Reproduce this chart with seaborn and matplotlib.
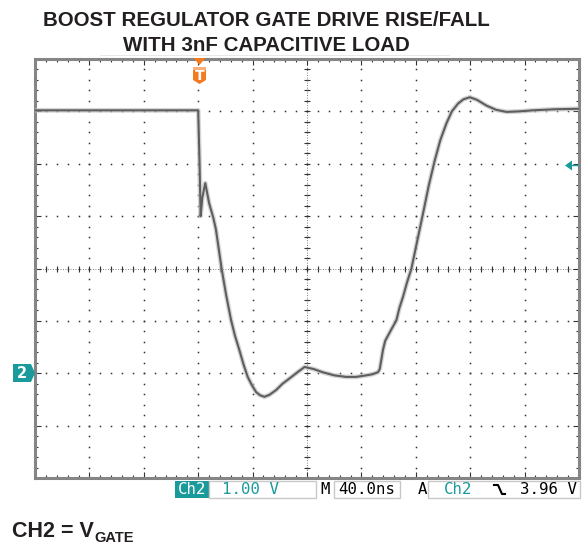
import numpy as np
import pandas as pd
import matplotlib
matplotlib.use("Agg")
import matplotlib.pyplot as plt
import seaborn as sns
from matplotlib.patches import Rectangle, Polygon
from matplotlib.ticker import MultipleLocator

# ---- data (read from the scope capture) ----
time_ns = [-120, -60, 0, 1.0, 1.8, 3.0, 5.2, 8.0, 11.1, 13.0, 17.2, 20.5, 24.2,
           27.0, 30.3, 33.3, 36.4, 39.5, 42.6, 45.5, 48.7, 52.5, 57.3, 62.0,
           67.1, 72.0, 78.2, 85.0, 91.4, 100.0, 108.9, 116.0, 123.6, 128.0,
           132.2, 133.5, 135.9, 137.5, 140.0, 142.5, 145.7, 148.0, 150.6,
           153.5, 156.8, 161.0, 165.3, 169.5, 173.9, 178.0, 182.5, 186.5,
           191.1, 195.0, 199.7, 205.0, 212.0, 219.0, 226.7, 236.0, 246.0,
           262.0, 280.0]
vgate = [5.02, 5.02, 5.02, 4.0, 3.0, 3.35, 3.63, 3.25, 2.97, 2.75, 2.0, 1.5, 1.01,
         0.72, 0.44, 0.17, -0.07, -0.23, -0.36, -0.42, -0.45, -0.41, -0.32, -0.2,
         -0.1, 0.0, 0.12, 0.08, 0.02, -0.04, -0.07, -0.07, -0.04, -0.02,
         0.02, 0.08, 0.45, 0.62, 0.74, 0.86, 1.01, 1.25, 1.46,
         1.73, 2.0, 2.52, 3.05, 3.58, 4.06, 4.45, 4.77, 5.0,
         5.15, 5.23, 5.27, 5.22, 5.11, 5.03, 4.99, 5.0, 5.02,
         5.04, 5.05]
trigger_level = 3.96
title_lines = ["BOOST REGULATOR GATE DRIVE RISE/FALL", "WITH 3nF CAPACITIVE LOAD"]
status_ch = "Ch2"
status_vdiv = "1.00 V"
status_tdiv = "40.0ns"
status_trig = "3.96 V"

df = pd.DataFrame({"t": time_ns, "v": vgate})

W, H = 584, 548
fig = plt.figure(figsize=(W / 100, H / 100), dpi=100)
fig.patch.set_facecolor("white")

L, R, T, B = 35, 579, 59, 478
ax = fig.add_axes([L / W, 1 - B / H, (R - L) / W, (B - T) / H])
ax.set_xlim(-120, 280)
ax.set_ylim(-2, 6)
ax.set_facecolor("white")

# graticule dots
dotc = "#333333"
for xv in np.arange(-80, 280, 40):
    ys = np.arange(-2, 6.001, 0.2)
    ax.plot(np.full_like(ys, xv), ys, ls="none", marker="s", ms=1.1, mew=0, color=dotc, zorder=1)
for yv in np.arange(-1, 6, 1):
    xs = np.arange(-120, 280.1, 8)
    ax.plot(xs, np.full_like(xs, yv), ls="none", marker="s", ms=1.1, mew=0, color=dotc, zorder=1)
# centre lines with small ticks
ys = np.arange(-2, 6.001, 0.2)
ax.plot(np.full_like(ys, 80), ys, ls="none", marker="_", ms=4, mew=0.8, color=dotc, zorder=1)
ax.axvline(80, ls=(0, (1, 2)), lw=0.6, color="#555555", zorder=1)
xs = np.arange(-120, 280.1, 8)
ax.plot(xs, np.full_like(xs, 2), ls="none", marker="|", ms=4, mew=0.8, color=dotc, zorder=1)
ax.axhline(2, ls=(0, (1, 2)), lw=0.6, color="#555555", zorder=1)

# border ticks
ax.xaxis.set_major_locator(MultipleLocator(40))
ax.xaxis.set_minor_locator(MultipleLocator(8))
ax.yaxis.set_major_locator(MultipleLocator(1))
ax.yaxis.set_minor_locator(MultipleLocator(0.2))
ax.tick_params(which="both", direction="in", top=True, right=True, bottom=True, left=True,
               labelbottom=False, labelleft=False, color="#333333")
ax.tick_params(which="major", length=4, width=0.8)
ax.tick_params(which="minor", length=2.5, width=0.8)
for s in ax.spines.values():
    s.set_color("#858585")
    s.set_linewidth(2.2)

# trace (persistence-like: light halo + grey core)
sns.lineplot(data=df, x="t", y="v", ax=ax, sort=False, estimator=None,
             color="#c4c4c4", lw=3.4, alpha=0.7, zorder=3)
sns.lineplot(data=df, x="t", y="v", ax=ax, sort=False, estimator=None,
             color="#5e5e5e", lw=1.5, zorder=4)
ax.set_xlabel("")
ax.set_ylabel("")

# overlay in pixel coords
ov = fig.add_axes([0, 0, 1, 1], zorder=10)
ov.set_xlim(0, W)
ov.set_ylim(H, 0)
ov.axis("off")
ov.patch.set_alpha(0)

tc = "#231f20"
ov.text(266, 20, title_lines[0], ha="center", va="center", fontsize=14.8,
        fontweight="bold", family="Liberation Sans", color=tc)
ov.text(266, 45.5, title_lines[1], ha="center", va="center", fontsize=14.8,
        fontweight="bold", family="Liberation Sans", color=tc)

# top record ruler (faint)
ov.plot([100, 449], [55, 55], color="#e4e4e4", lw=0.6)

orange = "#f47a20"
teal = "#1a9a9a"
# trigger time marker
ov.add_patch(Polygon([[193.5, 58], [205.5, 58], [199.5, 65]], closed=True, fc=orange, ec="none"))
ov.add_patch(Polygon([[193, 67], [206, 67], [206, 80], [199.5, 84], [193, 80]], closed=True,
                     fc=orange, ec="none"))
ov.add_patch(Rectangle((193, 67), 13, 3, fc="#f8b07a", ec="none"))
ov.text(199.5, 75.5, "T", ha="center", va="center", fontsize=10, fontweight="bold",
        color="white", family="DejaVu Sans")

# channel 2 ground marker
y0 = 373
ov.add_patch(Polygon([[13, y0 - 9], [31, y0 - 9], [35, y0], [31, y0 + 9], [13, y0 + 9]],
                     closed=True, fc=teal, ec="none"))
ov.text(22, y0 + 0.5, "2", ha="center", va="center", fontsize=10.5, fontweight="bold",
        color="white", family="DejaVu Sans")

# trigger level marker
ty = 373 - trigger_level * 52.4
ov.add_patch(Polygon([[565, ty], [572, ty - 5], [572, ty + 5]], closed=True, fc=teal, ec="none"))
ov.plot([572, 578], [ty, ty], color=teal, lw=1)

# status bar
mono = "DejaVu Sans Mono"
by0, by1 = 481, 498
bym = (by0 + by1) / 2 + 0.5
fs = 11.3
ov.add_patch(Rectangle((175, by0), 34, by1 - by0, fc=teal, ec="none"))
ov.text(192, bym, status_ch, ha="center", va="center", fontsize=fs, color="white", family=mono)
ov.add_patch(Rectangle((209, by0), 107, by1 - by0, fc="none", ec="#c8c8c8", lw=1))
ov.text(251, bym, status_vdiv, ha="center", va="center", fontsize=fs, color=teal, family=mono)
ov.text(325, bym, "M", ha="center", va="center", fontsize=fs, color="black", family=mono)
ov.add_patch(Rectangle((334, by0), 66, by1 - by0, fc="none", ec="#c8c8c8", lw=1))
ov.text(367, bym, status_tdiv, ha="center", va="center", fontsize=fs, color="black", family=mono)
ov.text(422, bym, "A", ha="center", va="center", fontsize=fs, color="black", family=mono)
ov.add_patch(Rectangle((428, by0), 152, by1 - by0, fc="none", ec="#c8c8c8", lw=1))
ov.text(458, bym, status_ch, ha="center", va="center", fontsize=fs, color=teal, family=mono)
ov.plot([494, 498, 502, 505], [485, 485, 494, 494], color="black", lw=1.5)
ov.text(577, bym, status_trig, ha="right", va="center", fontsize=fs, color="black", family=mono)

# footer label
main = ov.text(12, 537, "CH2 = V", ha="left", va="baseline", fontsize=15.5, fontweight="bold",
               family="Liberation Sans", color=tc)
fig.canvas.draw()
bb = main.get_window_extent(renderer=fig.canvas.get_renderer())
xend = ov.transData.inverted().transform((bb.x1, bb.y0))[0]
ov.text(xend + 0.5, 542, "GATE", ha="left", va="baseline", fontsize=10.5, fontweight="bold",
        family="Liberation Sans", color=tc)

fig.savefig("out.png", dpi=100, facecolor="white")
